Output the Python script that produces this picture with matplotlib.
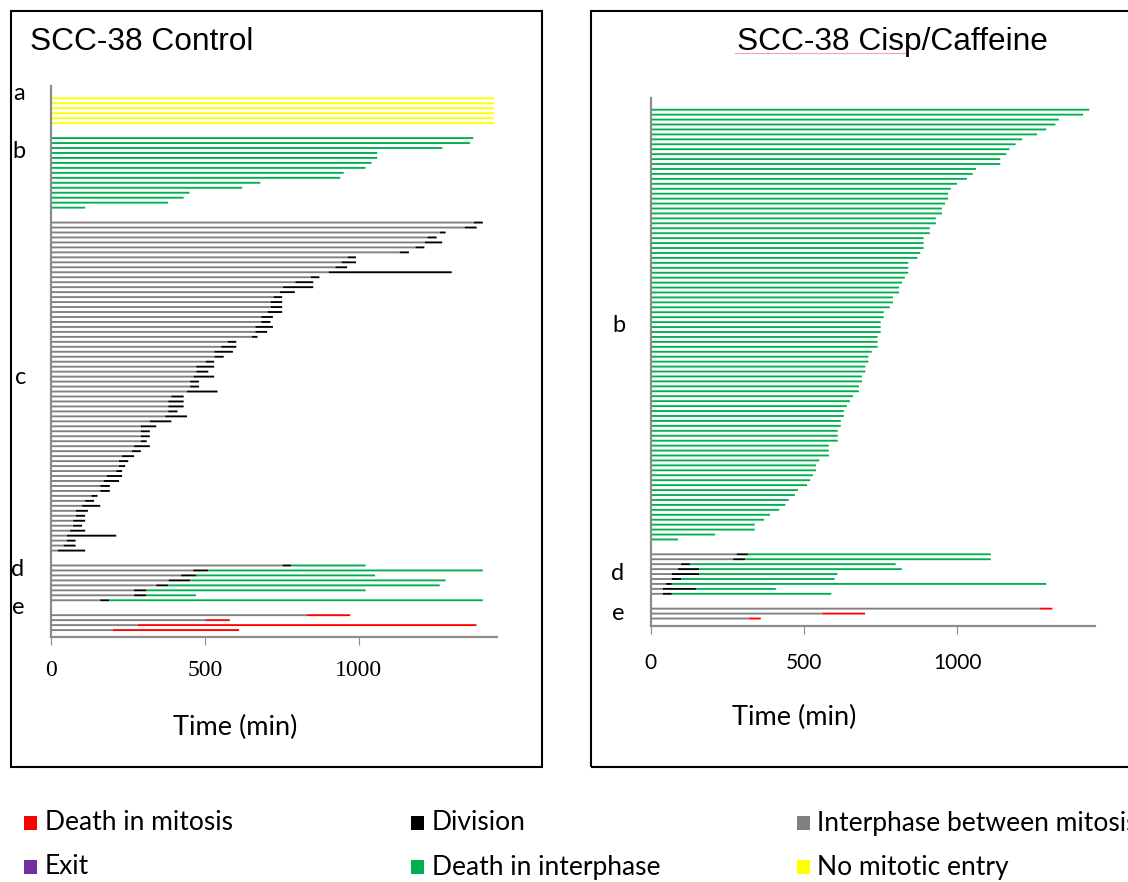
import matplotlib
matplotlib.use("Agg")
import matplotlib.pyplot as plt
from matplotlib.patches import Rectangle
from matplotlib.lines import Line2D
import numpy as np

# ---------------- data (minutes) ----------------
# Control panel
ctrl_a_noentry = [1440, 1440, 1440, 1440, 1440, 1440]
ctrl_b_death = [1372, 1361, 1271, 1060, 1060, 1041, 1022, 951, 940, 680, 621, 450, 431, 380, 111]
ctrl_c_interphase = [1374, 1344, 1264, 1223, 1215, 1184, 1133, 964, 944, 924, 902, 844, 794, 754,
                     743, 723, 714, 714, 704, 683, 683, 664, 664, 653, 574, 553, 531, 531, 503,
                     472, 472, 463, 452, 452, 442,
                     391, 381, 381, 381, 371, 321, 292, 292, 292, 292, 270, 263, 231, 221, 221,
                     212, 181, 171, 160, 160, 131, 111, 101, 81, 81, 72, 72, 62, 52, 52, 41, 22]
ctrl_c_division_end = [1403, 1383, 1282, 1253, 1271, 1213, 1163, 991, 991, 962, 1302, 872, 852, 852,
                       792, 751, 751, 751, 751, 721, 713, 721, 702, 671, 602, 602, 591, 561, 530,
                       530, 511, 530, 481, 481, 541,
                       431, 431, 431, 411, 442, 391, 342, 321, 321, 311, 321, 292, 270, 251, 241,
                       231, 231, 221, 191, 191, 151, 140, 160, 120, 111, 111, 101, 111, 212, 80, 80, 111]
ctrl_d_interphase = [752, 462, 423, 382, 342, 270, 270, 160]
ctrl_d_division_end = [781, 511, 471, 452, 381, 310, 310, 189]
ctrl_d_death = [1022, 1403, 1053, 1282, 1263, 1022, 471, 1403]
ctrl_e_interphase = [832, 501, 282, 201]
ctrl_e_mitosis_death = [972, 581, 1382, 611]

# Cisp/Caffeine panel
trt_b_death = [1430, 1410, 1331, 1320, 1290, 1260, 1211, 1190, 1170, 1160, 1140, 1140, 1061, 1050,
               1031, 999, 979, 970, 970, 960, 950, 950, 930, 930, 910, 910, 890, 890, 890, 879,
               870, 840, 840, 840, 829, 820, 810, 810, 790, 790, 780, 760, 760, 750, 750, 750,
               740, 740, 740, 721, 710, 710, 700, 700, 689, 689, 679, 679, 660, 650, 640, 630,
               630, 620, 620, 610, 610, 610, 581, 581, 581, 550, 539, 539, 529, 520, 510, 480,
               470, 450, 439, 419, 389, 370, 339, 339, 210, 89]
trt_d_interphase = [280, 269, 99, 89, 69, 69, 50, 40, 40]
trt_d_division_end = [317, 308, 128, 158, 158, 99, 69, 148, 69]
trt_d_death = [1109, 1109, 799, 819, 609, 600, 1290, 408, 589]
trt_e_interphase = [1270, 560, 320]
trt_e_mitosis_death = [1310, 699, 359]

x_ticks = [0, 500, 1000]
legend_labels = ["Death in mitosis", "Division", "Interphase between mitosis",
                 "Exit", "Death in interphase", "No mitotic entry"]

C_RED, C_BLACK, C_GRAY = "#FF0000", "#000000", "#808080"
C_PURPLE, C_GREEN, C_YELLOW = "#7030A0", "#00B050", "#FFFF00"
legend_colors = [C_RED, C_BLACK, C_GRAY, C_PURPLE, C_GREEN, C_YELLOW]

# ---------------- figure ----------------
W, H = 1128, 882
fig = plt.figure(figsize=(W / 100, H / 100), dpi=100)


def fx(px):
    return px / W


def fy(py):
    return 1 - py / H


def make_ax(x0, x1, ytop, ybot):
    return fig.add_axes([fx(x0), fy(ybot), fx(x1) - fx(x0), (ybot - ytop) / H])


BAR_H = 0.38
AX_GRAY = "#8C8C8C"
BAR_KW = dict(height=BAR_H, linewidth=0, snap=False)


def style_ax(ax, ylim, tick_font, tick_size, pad):
    ax.set_xlim(0, 1450)
    ax.set_ylim(*ylim)
    for s in ["top", "right"]:
        ax.spines[s].set_visible(False)
    for s in ["left", "bottom"]:
        ax.spines[s].set_color(AX_GRAY)
        ax.spines[s].set_linewidth(1.6)
    ax.set_yticks([])
    ax.set_xticks(x_ticks)
    ax.set_xticklabels([str(t) for t in x_ticks], fontfamily=tick_font, fontsize=tick_size)
    ax.tick_params(axis="x", length=6, width=0.8, color=AX_GRAY, pad=pad)
    ax.patch.set_alpha(0)


def rows_for(start, n):
    return np.arange(start, start + n)


def draw_interphase_division(ax, rows, inter, div_end):
    inter = np.array(inter)
    div_end = np.array(div_end)
    ax.barh(rows, inter, left=0, color=C_GRAY, **BAR_KW)
    ax.barh(rows, div_end - inter, left=inter, color=C_BLACK, **BAR_KW)


# ---------- left panel ----------
axL = make_ax(51, 497.3, 86, 637.3)
gap = 2
r = 0
rows_a = rows_for(r, len(ctrl_a_noentry)); r += len(ctrl_a_noentry) + gap
rows_b = rows_for(r, len(ctrl_b_death)); r += len(ctrl_b_death) + gap
rows_c = rows_for(r, len(ctrl_c_interphase)); r += len(ctrl_c_interphase) + gap
rows_d = rows_for(r, len(ctrl_d_interphase)); r += len(ctrl_d_interphase) + gap
rows_e = rows_for(r, len(ctrl_e_interphase))

axL.barh(rows_a, ctrl_a_noentry, left=0, color=C_YELLOW, **BAR_KW)
axL.barh(rows_b, ctrl_b_death, left=0, color=C_GREEN, **BAR_KW)
draw_interphase_division(axL, rows_c, ctrl_c_interphase, ctrl_c_division_end)
draw_interphase_division(axL, rows_d, ctrl_d_interphase, ctrl_d_division_end)
axL.barh(rows_d, np.array(ctrl_d_death) - np.array(ctrl_d_division_end),
         left=ctrl_d_division_end, color=C_GREEN, **BAR_KW)
axL.barh(rows_e, ctrl_e_interphase, left=0, color=C_GRAY, **BAR_KW)
axL.barh(rows_e, np.array(ctrl_e_mitosis_death) - np.array(ctrl_e_interphase),
         left=ctrl_e_interphase, color=C_RED, **BAR_KW)
style_ax(axL, ((637.3 - 98.3) / 4.97, (86 - 98.3) / 4.97), "Liberation Serif", 17, 10)

# ---------- right panel ----------
axR = make_ax(650.7, 1095.3, 97.7, 626.3)
r = 0
rrows_b = rows_for(r, len(trt_b_death)); r += len(trt_b_death) + gap
rrows_d = rows_for(r, len(trt_d_interphase)); r += len(trt_d_interphase) + gap
rrows_e = rows_for(r, len(trt_e_interphase))

axR.barh(rrows_b, trt_b_death, left=0, color=C_GREEN, **BAR_KW)
draw_interphase_division(axR, rrows_d, trt_d_interphase, trt_d_division_end)
axR.barh(rrows_d, np.array(trt_d_death) - np.array(trt_d_division_end),
         left=trt_d_division_end, color=C_GREEN, **BAR_KW)
axR.barh(rrows_e, trt_e_interphase, left=0, color=C_GRAY, **BAR_KW)
axR.barh(rrows_e, np.array(trt_e_mitosis_death) - np.array(trt_e_interphase),
         left=trt_e_interphase, color=C_RED, **BAR_KW)
style_ax(axR, ((626.3 - 109.7) / 4.94, (97.7 - 109.7) / 4.94), "Lato", 15, 13)

# ---------- frames ----------
fig.add_artist(Rectangle((fx(11), fy(767)), fx(542) - fx(11), fy(11) - fy(767),
                         transform=fig.transFigure, fill=False, ec="black", lw=1.5))
fig.add_artist(Rectangle((fx(591), fy(767)), fx(1150) - fx(591), fy(11) - fy(767),
                         transform=fig.transFigure, fill=False, ec="black", lw=1.5))

# ---------- titles ----------
fig.text(fx(30), fy(50), "SCC-38 Control", fontfamily="Liberation Sans", fontsize=22.8,
         ha="left", va="baseline")
fig.text(fx(892.5), fy(50), "SCC-38 Cisp/Caffeine", fontfamily="Liberation Sans", fontsize=22.8,
         ha="center", va="baseline")
fig.add_artist(Line2D([fx(735), fx(905)], [fy(53), fy(53)], transform=fig.transFigure,
                      color="#F2A6A6", lw=0.8))

# ---------- group letters ----------
LET_FONT = dict(fontfamily="Lato", fontsize=17, ha="center", va="center")
for txt, px, py in [("a", 19, 94), ("b", 19, 152), ("c", 21, 378), ("d", 18, 569), ("e", 18, 608),
                    ("b", 619, 326), ("d", 618, 574), ("e", 618, 613)]:
    fig.text(fx(px), fy(py), txt, **LET_FONT)

# ---------- axis titles ----------
fig.text(fx(235.5), fy(727), "Time (min)", fontfamily="Lato", fontsize=19.5, ha="center", va="center")
fig.text(fx(794), fy(717), "Time (min)", fontfamily="Lato", fontsize=19.5, ha="center", va="center")

# ---------- legend ----------
col_sq = [24, 411, 797]
col_tx = [45, 432, 817]
row_y = [823, 867]
for i, (lab, col) in enumerate(zip(legend_labels, legend_colors)):
    ci, ri = i % 3, i // 3
    fig.add_artist(Rectangle((fx(col_sq[ci]), fy(row_y[ri] + 7)), 13 / W, 14 / H,
                             transform=fig.transFigure, fc=col, ec="none"))
    fig.text(fx(col_tx[ci]), fy(row_y[ri]), lab, fontfamily="Lato", fontsize=19,
             ha="left", va="center")

fig.savefig("out.png", dpi=100)
